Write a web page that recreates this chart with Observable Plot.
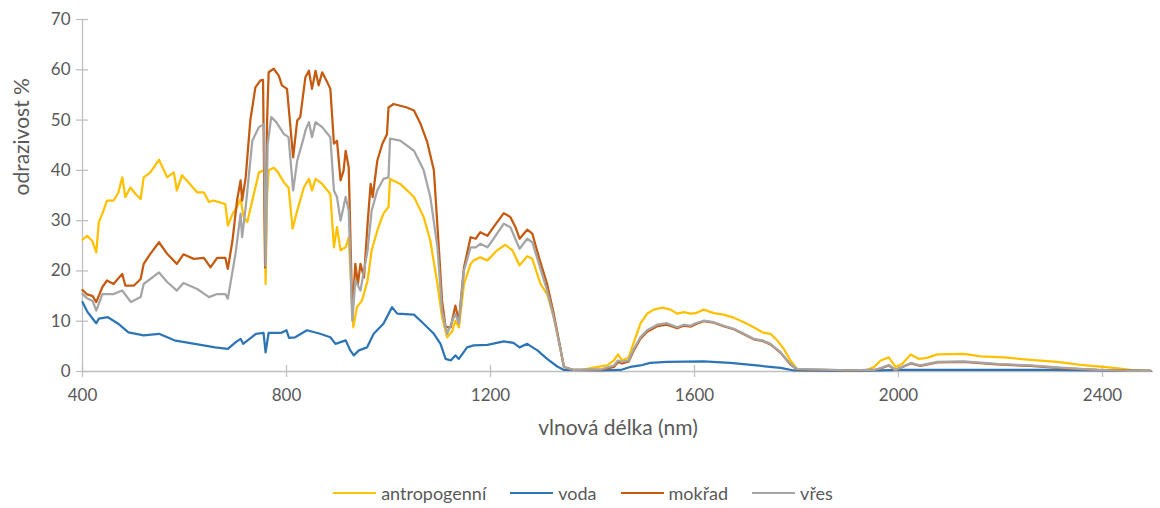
<!DOCTYPE html>
<html>
<head>
<meta charset="utf-8">
<script src="https://cdn.jsdelivr.net/npm/d3@7"></script>
<script src="https://cdn.jsdelivr.net/npm/@observablehq/plot@0.6"></script>
<style>
  body { margin: 0; background: #fff; font-family: Lato, "Open Sans", sans-serif; }
  #chart { width: 1160px; }
  .legend { display: flex; justify-content: center; align-items: center; height: 30px; margin-top: 18px; font-size: 18px; color: #595959; padding-left: 6px; }
  .legend .item { display: flex; align-items: center; margin: 0 12px; }
  .legend .sw { display: inline-block; width: 43px; height: 2.5px; margin-right: 5px; }
</style>
</head>
<body>
<div id="chart"></div>
<script>
const seriesNames = ["antropogenní", "voda", "mokřad", "vřes"];
const seriesColors = ["#FFC000", "#2E75B6", "#C55A11", "#A5A5A5"];
const xTicks = [400, 800, 1200, 1600, 2000, 2400];
const yTicks = [0, 10, 20, 30, 40, 50, 60, 70];
const xTitle = "vlnová délka (nm)";
const yTitle = "odrazivost %";

const antropogenni = [
[400,26.2],[409,27.0],[419,26.0],[427,23.7],[432,29.7],[439,31.4],[448,34.0],[461,34.0],[470,35.5],[478,38.6],[484,34.7],[494,36.6],[504,35.3],[514,34.3],[520,38.6],[533,39.6],[550,42.1],[566,38.6],[579,39.6],[585,36.0],[595,39.0],[608,37.6],[625,35.6],[638,35.6],[648,33.7],[657,34.0],[680,33.3],[685,29.0],[694,31.3],[703,32.7],[710,34.3],[716,30.7],[723,29.7],[733,34.0],[746,39.6],[756,40.0],[759,17.4],[762,35.0],[765,40.0],[775,40.5],[782,39.8],[795,37.6],[804,36.6],[812,28.4],[821,32.0],[834,36.6],[844,38.3],[850,36.0],[857,38.3],[870,37.3],[886,35.3],[893,24.7],[899,28.7],[906,24.1],[916,24.7],[922,26.7],[931,8.8],[938,12.8],[948,14.1],[959,18.1],[967,24.1],[978,28.0],[990,31.4],[1000,32.7],[1003,38.3],[1023,37.3],[1050,34.7],[1069,30.7],[1082,26.0],[1096,17.4],[1105,10.8],[1115,6.8],[1125,8.0],[1131,10.1],[1138,8.8],[1148,17.4],[1161,21.4],[1167,22.1],[1180,22.7],[1194,22.1],[1213,24.1],[1229,25.2],[1243,24.1],[1257,21.1],[1272,22.9],[1282,22.4],[1298,17.4],[1311,15.4],[1324,10.8],[1334,6.0],[1344,0.9],[1363,0.3],[1376,0.3],[1416,1.0],[1429,1.2],[1442,2.2],[1450,3.4],[1458,2.2],[1471,2.8],[1481,5.8],[1494,9.5],[1507,11.5],[1520,12.3],[1537,12.7],[1553,12.3],[1566,11.5],[1579,11.8],[1592,11.5],[1602,11.6],[1618,12.3],[1638,11.6],[1657,11.3],[1677,10.7],[1697,9.8],[1716,8.8],[1733,7.8],[1749,7.5],[1762,6.2],[1775,4.5],[1788,2.2],[1801,0.5],[1821,0.3],[1900,0.2],[1932,0.1],[1952,0.9],[1965,2.2],[1981,2.8],[1994,0.9],[2007,1.5],[2024,3.4],[2040,2.5],[2056,2.7],[2076,3.4],[2128,3.5],[2161,3.0],[2207,2.8],[2259,2.3],[2311,1.9],[2357,1.3],[2390,1.0],[2422,0.7],[2455,0.3],[2494,0.1]
];

const voda = [
[400,13.8],[410,11.8],[420,10.5],[427,9.6],[432,10.5],[450,10.8],[470,9.5],[490,7.8],[520,7.2],[550,7.5],[580,6.2],[620,5.5],[660,4.8],[685,4.5],[700,5.8],[710,6.5],[715,5.5],[740,7.5],[755,7.7],[759,3.8],[765,7.7],[790,7.7],[800,8.2],[805,6.7],[817,6.8],[840,8.2],[866,7.5],[886,6.8],[896,5.5],[916,6.2],[925,4.2],[932,3.2],[942,4.2],[958,4.8],[971,7.5],[990,9.5],[1007,12.8],[1017,11.5],[1050,11.3],[1069,9.5],[1089,7.5],[1102,5.5],[1112,2.5],[1122,2.2],[1131,3.2],[1138,2.5],[1154,4.8],[1167,5.2],[1194,5.3],[1226,6.0],[1245,5.7],[1257,4.8],[1272,5.5],[1292,4.2],[1311,2.5],[1331,1.0],[1344,0.3],[1416,0.2],[1455,0.3],[1474,0.9],[1494,1.2],[1513,1.7],[1546,1.9],[1618,2.0],[1670,1.7],[1722,1.2],[1769,0.7],[1795,0.2],[1900,0.1],[1965,0.2],[2000,0.3],[2100,0.3],[2300,0.3],[2400,0.2],[2494,0.1]
];

const mokrad = [
[400,16.2],[408,15.4],[420,15.0],[427,13.8],[439,16.8],[448,18.1],[461,17.4],[470,18.5],[478,19.4],[484,17.1],[501,17.1],[514,18.4],[520,21.4],[533,23.4],[550,25.7],[566,23.4],[585,21.4],[598,23.3],[618,22.4],[638,22.6],[651,20.7],[664,22.6],[680,22.6],[685,20.4],[694,26.0],[703,34.0],[710,38.0],[713,34.0],[720,38.6],[729,49.9],[739,56.5],[749,57.9],[754,58.0],[758,20.7],[762,50.0],[765,59.5],[775,60.2],[785,58.8],[791,56.9],[801,56.2],[806,50.6],[813,42.6],[821,49.9],[827,50.6],[837,58.5],[844,59.8],[850,56.2],[857,59.8],[863,56.9],[870,59.5],[880,57.5],[886,56.2],[893,45.3],[899,45.9],[906,38.0],[912,40.0],[916,43.9],[922,40.6],[929,11.5],[935,21.4],[940,17.4],[945,21.4],[952,18.7],[959,29.4],[965,37.3],[969,34.7],[978,41.9],[988,45.3],[997,47.2],[1000,52.5],[1010,53.2],[1036,52.5],[1050,51.9],[1063,49.2],[1076,45.6],[1089,40.0],[1099,24.1],[1105,14.1],[1112,8.8],[1122,8.8],[1131,13.1],[1138,10.1],[1148,20.7],[1161,26.7],[1171,26.4],[1180,27.7],[1194,27.0],[1206,28.7],[1226,31.5],[1239,30.7],[1249,28.7],[1257,26.4],[1272,28.2],[1282,27.4],[1295,22.7],[1311,17.4],[1324,11.5],[1334,6.2],[1344,0.9],[1363,0.3],[1416,0.3],[1442,0.9],[1450,1.9],[1458,1.6],[1471,2.0],[1481,4.2],[1494,6.5],[1507,7.9],[1527,9.0],[1546,9.3],[1566,8.6],[1579,9.1],[1592,8.9],[1602,9.4],[1618,10.0],[1638,9.7],[1657,9.0],[1677,8.4],[1697,7.4],[1716,6.4],[1733,6.1],[1749,5.4],[1769,3.7],[1788,1.4],[1801,0.4],[1900,0.2],[1952,0.3],[1965,0.6],[1981,1.2],[1994,0.3],[2024,1.6],[2043,1.1],[2076,1.8],[2128,1.9],[2193,1.4],[2259,1.1],[2324,0.6],[2390,0.3],[2455,0.1],[2494,0.1]
];

const vres = [
[400,15.4],[410,14.5],[420,14.0],[427,12.1],[439,15.4],[461,15.4],[478,16.1],[495,13.8],[514,14.8],[520,17.4],[550,19.7],[566,17.8],[585,16.1],[598,17.6],[625,16.4],[648,14.8],[664,15.4],[680,15.4],[685,14.5],[700,23.4],[710,31.4],[713,26.7],[720,32.7],[733,45.9],[746,48.6],[756,49.2],[759,21.0],[763,45.0],[770,50.6],[780,49.6],[795,47.2],[804,46.6],[813,36.0],[821,41.9],[834,46.6],[837,47.9],[844,49.6],[850,46.6],[857,49.6],[870,48.6],[886,46.6],[893,36.0],[899,34.7],[906,30.0],[916,34.7],[922,32.0],[929,10.1],[935,18.1],[945,16.1],[959,24.1],[967,32.0],[978,36.0],[990,38.3],[1000,38.6],[1003,46.3],[1023,45.9],[1050,43.9],[1069,40.0],[1082,34.7],[1096,24.7],[1105,12.1],[1115,7.5],[1131,11.5],[1138,9.5],[1148,20.1],[1161,24.7],[1171,24.7],[1180,25.4],[1194,24.7],[1206,26.4],[1226,29.4],[1239,28.7],[1257,24.4],[1272,26.4],[1282,25.7],[1295,21.4],[1311,16.1],[1324,10.8],[1334,6.0],[1344,0.9],[1363,0.3],[1416,0.4],[1442,1.2],[1450,2.2],[1458,1.9],[1471,2.2],[1481,4.5],[1494,6.8],[1507,8.2],[1527,9.3],[1546,9.6],[1566,8.8],[1579,9.3],[1592,9.1],[1602,9.6],[1618,10.1],[1638,9.8],[1657,9.1],[1677,8.5],[1697,7.5],[1716,6.5],[1733,6.2],[1749,5.5],[1769,3.8],[1788,1.5],[1801,0.5],[1900,0.2],[1952,0.3],[1965,0.7],[1981,1.3],[1994,0.3],[2024,1.7],[2043,1.2],[2076,1.9],[2128,2.0],[2193,1.5],[2259,1.2],[2324,0.7],[2390,0.3],[2455,0.1],[2494,0.1]
];

const seriesData = [antropogenni, voda, mokrad, vres];
const axisColor = "#BFBFBF";
const textColor = "#595959";

const lineMarks = seriesData.map((d, i) =>
  Plot.line(d, {x: d => d[0], y: d => d[1], stroke: seriesColors[i], strokeWidth: 2.25, curve: "linear"})
);

const chart = Plot.plot({
  width: 1160,
  height: 460,
  marginLeft: 82,
  marginRight: 7,
  marginTop: 19,
  marginBottom: 89,
  style: {fontFamily: "Lato, 'Open Sans', sans-serif", background: "#fff"},
  x: {domain: [400, 2500]},
  y: {domain: [0, 70]},
  marks: [
    Plot.ruleX([400], {stroke: axisColor, strokeWidth: 1.3}),
    Plot.ruleY([0], {stroke: axisColor, strokeWidth: 1.3}),
    Plot.axisX({ticks: xTicks, tickSize: 12, dy: -6, text: null, label: null, stroke: axisColor, strokeWidth: 1.3}),
    Plot.axisY({ticks: yTicks, tickSize: 12, dx: 6, text: null, label: null, stroke: axisColor, strokeWidth: 1.3}),
    Plot.axisX({ticks: xTicks, tickSize: 0, tickPadding: 17, fontSize: 17, fill: textColor, tickFormat: d => String(d), label: null}),
    Plot.axisY({ticks: yTicks, tickSize: 0, tickPadding: 12, fontSize: 17, fill: textColor, tickFormat: d => String(d), label: null}),
    Plot.text([xTitle], {frameAnchor: "bottom", dy: 63, fontSize: 21, fill: textColor}),
    Plot.text([yTitle], {frameAnchor: "left", dx: -60, rotate: -90, fontSize: 21, fill: textColor}),
    ...lineMarks
  ]
});

document.getElementById("chart").appendChild(chart);

const legend = document.createElement("div");
legend.className = "legend";
seriesNames.forEach((name, i) => {
  const item = document.createElement("div");
  item.className = "item";
  const sw = document.createElement("span");
  sw.className = "sw";
  sw.style.background = seriesColors[i];
  const t = document.createElement("span");
  t.textContent = name;
  item.appendChild(sw);
  item.appendChild(t);
  legend.appendChild(item);
});
document.body.appendChild(legend);
</script>
</body>
</html>
